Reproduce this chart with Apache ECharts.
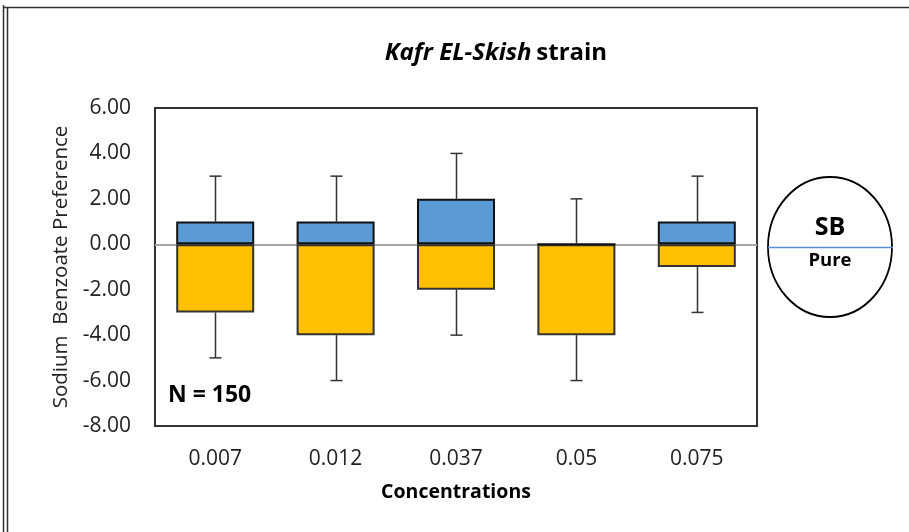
<!DOCTYPE html>
<html>
<head>
<meta charset="utf-8">
<style>
  html, body { margin: 0; padding: 0; background: #fff; }
  #main { width: 909px; height: 532px; }
</style>
</head>
<body>
<div id="main"></div>
<script src="https://cdn.jsdelivr.net/npm/echarts@6/dist/echarts.min.js"></script>
<script>
// concentrations and box values
var categories = ['0.007', '0.012', '0.037', '0.05', '0.075'];
var upperBox = [1, 1, 2, 0, 1];      // blue part, 0 -> upper quartile
var lowerBox = [-3, -4, -2, -4, -1]; // orange part, lower quartile -> 0
var whiskerMax = [3, 3, 4, 2, 3];
var whiskerMin = [-5, -6, -4, -6, -3];
var yTicks = [-8, -6, -4, -2, 0, 2, 4, 6];

var font = 'Open Sans';

var whiskerData = categories.map(function (c, i) {
    return [i, upperBox[i], whiskerMax[i], lowerBox[i], whiskerMin[i]];
});

function renderWhisker(params, api) {
    var i = api.value(0);
    var top = api.coord([i, api.value(1)]);
    var max = api.coord([i, api.value(2)]);
    var bot = api.coord([i, api.value(3)]);
    var min = api.coord([i, api.value(4)]);
    var x = Math.round(top[0]) + 0.5;
    var cap = 6;
    var st = { stroke: '#333', lineWidth: 1.5 };
    return {
        type: 'group',
        children: [
            { type: 'line', shape: { x1: x, y1: top[1], x2: x, y2: max[1] }, style: st },
            { type: 'line', shape: { x1: x - cap, y1: max[1], x2: x + cap, y2: max[1] }, style: st },
            { type: 'line', shape: { x1: x, y1: bot[1], x2: x, y2: min[1] }, style: st },
            { type: 'line', shape: { x1: x - cap, y1: min[1], x2: x + cap, y2: min[1] }, style: st }
        ]
    };
}

var chart = echarts.init(document.getElementById('main'));
chart.setOption({
    backgroundColor: '#fff',
    animation: false,
    textStyle: { fontFamily: font },
    title: {
        text: '{i|Kafr EL-Skish} {b|strain}',
        left: 491,
        textAlign: 'center',
        top: 36,
        textStyle: {
            rich: {
                i: { fontFamily: font, fontSize: 24, fontWeight: 'bold', fontStyle: 'italic', color: '#000' },
                b: { fontFamily: font, fontSize: 24, fontWeight: 'bold', color: '#000' }
            }
        }
    },
    grid: {
        left: 155, right: 152, top: 108, bottom: 106,
        show: true, borderColor: '#333', borderWidth: 2, backgroundColor: '#fff'
    },
    xAxis: {
        type: 'category',
        data: categories,
        axisLine: { show: false },
        axisTick: { show: false },
        axisLabel: { fontSize: 21, color: '#222', margin: 23, fontFamily: font },
        name: 'Concentrations',
        nameLocation: 'middle',
        nameGap: 56,
        nameTextStyle: { fontSize: 19.5, fontWeight: 'bold', color: '#000', fontFamily: font }
    },
    yAxis: {
        type: 'value',
        min: yTicks[0],
        max: yTicks[yTicks.length - 1],
        interval: 2,
        axisLine: { show: false },
        axisTick: { show: false },
        splitLine: { show: false },
        axisLabel: {
            fontSize: 21, color: '#222', margin: 24, fontFamily: font,
            formatter: function (v) { return v.toFixed(2); }
        },
        name: 'Sodium  Benzoate Preference',
        nameLocation: 'middle',
        nameGap: 78,
        nameTextStyle: { fontSize: 20.5, color: '#222', fontFamily: font }
    },
    series: [
        {
            type: 'bar',
            data: lowerBox,
            barWidth: 78,
            barGap: '-100%',
            itemStyle: { color: '#ffc000', borderColor: '#333', borderWidth: 2 },
            markLine: {
                silent: true,
                symbol: 'none',
                label: { show: false },
                lineStyle: { color: '#a6a6a6', width: 2, type: 'solid' },
                data: [{ yAxis: 0 }],
                z: 1
            },
            z: 2
        },
        {
            type: 'bar',
            data: upperBox,
            barWidth: 78,
            barGap: '-100%',
            itemStyle: { color: '#5b9bd5', borderColor: '#111', borderWidth: 2 },
            z: 3
        },
        {
            type: 'custom',
            data: whiskerData,
            renderItem: renderWhisker,
            z: 4
        }
    ],
    graphic: [
        // outer frame
        { type: 'line', shape: { x1: 3.5, y1: 5, x2: 3.5, y2: 532 }, style: { stroke: '#333', lineWidth: 1.5 } },
        { type: 'line', shape: { x1: 7.5, y1: 7.5, x2: 7.5, y2: 532 }, style: { stroke: '#333', lineWidth: 1.5 } },
        { type: 'line', shape: { x1: 3.5, y1: 7.5, x2: 909, y2: 7.5 }, style: { stroke: '#333', lineWidth: 1.5 } },
        // N label
        { type: 'text', left: 168, top: 384, style: { text: 'N = 150', fontFamily: font, fontSize: 23, fontWeight: 'bold', fill: '#000' } },
        // SB / Pure ellipse
        {
            type: 'circle', x: 830, y: 247, scaleX: 62 / 70, scaleY: 1,
            shape: { cx: 0, cy: 0, r: 70 },
            style: { fill: '#fff', stroke: '#000', lineWidth: 2 }
        },
        { type: 'line', shape: { x1: 768, y1: 247.5, x2: 893, y2: 247.5 }, style: { stroke: '#5b8fd5', lineWidth: 1.5 } },
        { type: 'text', x: 830, y: 228, style: { text: 'SB', fontFamily: font, fontSize: 25, fontWeight: 'bold', fill: '#000', align: 'center', verticalAlign: 'middle' } },
        { type: 'text', x: 830, y: 261, style: { text: 'Pure', fontFamily: font, fontSize: 18.5, fontWeight: 'bold', fill: '#000', align: 'center', verticalAlign: 'middle' } }
    ]
});
</script>
</body>
</html>
